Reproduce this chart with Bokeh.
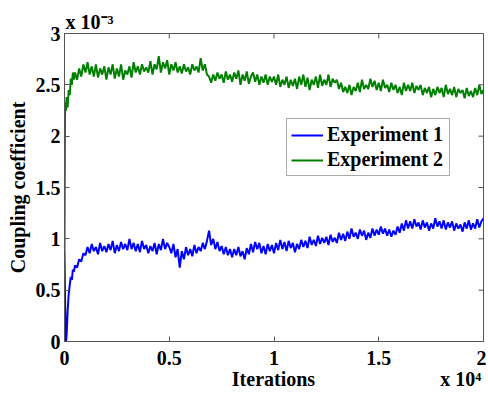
import math
from bokeh.plotting import figure
from bokeh.models import (Range1d, FixedTicker, Legend, LegendItem,
                          Title, NumeralTickFormatter)
from bokeh.embed import file_html
from bokeh.resources import INLINE

# ---- data (coupling coefficient in units of 1e-3) ----
ITERATIONS = [0, 25, 50, 75, 100, 150, 200, 250, 300, 350, 400, 450] + list(range(500, 20001, 100))

EXP1 = [
    0.88, 0.45, 0.08, 0.00, 0.06, 0.30, 0.46, 0.55, 0.63, 0.60, 0.70, 0.68,
    0.74, 0.72, 0.80, 0.78, 0.86,
    0.84, 0.92, 0.86, 0.95, 0.88,
    0.92, 0.85, 0.96, 0.88, 0.93,
    0.87, 0.95, 0.89, 0.98, 0.86,
    0.94, 0.88, 0.97, 0.90, 0.95,
    0.89, 1.00, 0.90, 0.96, 0.88,
    0.95, 0.87, 0.98, 0.90, 0.94,
    0.86, 0.93, 0.88, 0.96, 0.85,
    0.95, 0.89, 1.00, 0.90, 0.96,
    0.92, 0.86, 0.95, 0.82, 0.90,
    0.72, 0.88, 0.80, 0.92, 0.84,
    0.90, 0.83, 0.94, 0.86, 0.92,
    0.88, 0.96, 0.90, 0.98, 1.08,
    0.94, 1.00, 0.90, 0.97, 0.88,
    0.93, 0.85, 0.92, 0.84, 0.90,
    0.82, 0.90, 0.84, 0.92, 0.83,
    0.88, 0.80, 0.91, 0.85, 0.95,
    0.87, 0.97, 0.90, 0.96, 0.86,
    0.93, 0.85, 0.95, 0.88, 0.94,
    0.86, 0.96, 0.89, 0.99, 0.90,
    0.97, 0.88, 0.98, 0.91, 0.96,
    0.87, 0.95, 0.90, 0.99, 0.92,
    0.98, 0.91, 1.02, 0.94, 0.99,
    0.93, 1.03, 0.95, 1.01, 0.96,
    1.02, 0.94, 1.04, 0.97, 1.01,
    0.96, 1.06, 0.99, 1.05, 0.98,
    1.07, 1.00, 1.10, 1.02, 1.06,
    1.00, 1.09, 1.03, 1.08, 0.99,
    1.06, 1.01, 1.10, 1.03, 1.09,
    1.04, 1.12, 1.05, 1.10, 1.03,
    1.09, 1.02, 1.08, 1.04, 1.12,
    1.06, 1.15, 1.08, 1.18, 1.10,
    1.17, 1.10, 1.19, 1.12, 1.16,
    1.09, 1.18, 1.11, 1.16, 1.08,
    1.15, 1.10, 1.20, 1.12, 1.17,
    1.10, 1.18, 1.09, 1.16, 1.11,
    1.17, 1.08, 1.15, 1.10, 1.14,
    1.07, 1.16, 1.10, 1.18, 1.09,
    1.15, 1.10, 1.19, 1.11, 1.17,
    1.20,
]

EXP2 = [
    0.88, 2.20, 2.33, 2.25, 2.38, 2.28, 2.45, 2.40, 2.56, 2.50, 2.62, 2.55,
    2.62, 2.55, 2.66, 2.58, 2.70,
    2.62, 2.72, 2.60, 2.68, 2.58,
    2.70, 2.57, 2.66, 2.60, 2.68,
    2.55, 2.67, 2.60, 2.70, 2.56,
    2.66, 2.58, 2.70, 2.55, 2.64,
    2.60, 2.68, 2.57, 2.72, 2.62,
    2.68, 2.60, 2.70, 2.63, 2.67,
    2.62, 2.73, 2.60, 2.70, 2.65,
    2.78, 2.62, 2.72, 2.66, 2.74,
    2.60, 2.70, 2.64, 2.72, 2.62,
    2.68, 2.61, 2.70, 2.63, 2.67,
    2.60, 2.70, 2.64, 2.68, 2.62,
    2.76, 2.64, 2.70, 2.60, 2.58,
    2.52, 2.60, 2.54, 2.62, 2.56,
    2.60, 2.52, 2.63, 2.55, 2.60,
    2.53, 2.62, 2.56, 2.64, 2.50,
    2.60, 2.54, 2.63, 2.51, 2.58,
    2.62, 2.53, 2.60, 2.50, 2.58,
    2.52, 2.60, 2.50, 2.58, 2.53,
    2.58, 2.50, 2.60, 2.48, 2.55,
    2.50, 2.58, 2.47, 2.55, 2.49,
    2.56, 2.46, 2.58, 2.50, 2.60,
    2.48, 2.57, 2.45, 2.55, 2.50,
    2.58, 2.47, 2.60, 2.49, 2.55,
    2.50, 2.60, 2.48, 2.56, 2.52,
    2.55, 2.46, 2.52, 2.43, 2.48,
    2.42, 2.50, 2.40, 2.48, 2.44,
    2.52, 2.43, 2.55, 2.46, 2.50,
    2.46, 2.56, 2.48, 2.54, 2.45,
    2.52, 2.44, 2.55, 2.47, 2.50,
    2.43, 2.52, 2.45, 2.50, 2.42,
    2.48, 2.40, 2.52, 2.44, 2.50,
    2.44, 2.52, 2.42, 2.49, 2.45,
    2.50, 2.40, 2.47, 2.42, 2.48,
    2.38, 2.46, 2.40, 2.48, 2.42,
    2.47, 2.38, 2.50, 2.41, 2.46,
    2.40, 2.48, 2.38, 2.46, 2.42,
    2.45, 2.37, 2.47, 2.39, 2.44,
    2.38, 2.47, 2.40, 2.50, 2.41,
    2.45,
]

SERIES_NAMES = ["Experiment 1", "Experiment 2"]
SERIES_COLORS = ["#0000ff", "#008000"]
X_TICKS = [0, 5000, 10000, 15000, 20000]
X_TICK_LABELS = ["0", "0.5", "1", "1.5", "2"]
Y_TICKS = [0, 0.5, 1, 1.5, 2, 2.5, 3]
X_MAX, Y_MAX = 20000, 3
Y_EXPONENT = "x 10\u207b\u00b3"
X_EXPONENT = "x 10\u2074"
X_LABEL = "Iterations"
Y_LABEL = "Coupling coefficient"

FONT = "Liberation Serif"
AX_COLOR = "#555555"
NB = "\u00a0"

p = figure(width=486, height=392, output_backend="svg", toolbar_location=None,
           x_range=Range1d(0, X_MAX), y_range=Range1d(0, Y_MAX),
           min_border_left=64, min_border_right=3, min_border_top=33,
           min_border_bottom=50,
           x_axis_label=NB * 33 + X_LABEL + NB * 25 + X_EXPONENT,
           y_axis_label=Y_LABEL)
p.xgrid.visible = False
p.ygrid.visible = False
p.outline_line_color = AX_COLOR
p.background_fill_color = "white"
p.border_fill_color = "white"

# exponent of the y axis, above the top-left corner
p.title = Title(text=Y_EXPONENT, align="left", offset=1, standoff=2,
                text_font=FONT, text_font_style="bold", text_font_size="20px",
                text_color="black")

r1 = p.line(ITERATIONS, EXP1, line_color=SERIES_COLORS[0], line_width=2)
r2 = p.line(ITERATIONS, EXP2, line_color=SERIES_COLORS[1], line_width=2)

# inward ticks on the top and right edges (clipped to the frame)
p.scatter(X_TICKS, [Y_MAX] * len(X_TICKS), marker="dash", angle=math.pi / 2,
          size=10, line_color=AX_COLOR, line_width=1)
p.scatter([X_MAX] * len(Y_TICKS), Y_TICKS, marker="dash", size=10,
          line_color=AX_COLOR, line_width=1)

p.xaxis.ticker = FixedTicker(ticks=X_TICKS)
p.yaxis.ticker = FixedTicker(ticks=Y_TICKS)
p.xaxis.major_label_overrides = dict(zip(X_TICKS, X_TICK_LABELS))
p.yaxis.formatter = NumeralTickFormatter(format="0.[0]")

for ax in p.xaxis + p.yaxis:
    ax.axis_line_color = AX_COLOR
    ax.major_tick_line_color = AX_COLOR
    ax.major_tick_in = 5
    ax.major_tick_out = 0
    ax.minor_tick_in = 0
    ax.minor_tick_out = 0
    ax.major_label_text_font = FONT
    ax.major_label_text_font_style = "bold"
    ax.major_label_text_font_size = "20px"
    ax.major_label_text_color = "black"
    ax.axis_label_text_font = FONT
    ax.axis_label_text_font_style = "bold"
    ax.axis_label_text_font_size = "20px"
    ax.axis_label_text_color = "black"
p.xaxis.major_label_standoff = 9
p.yaxis.major_label_standoff = 4
p.xaxis.axis_label_standoff = 0
p.yaxis.axis_label_standoff = 4

legend = Legend(items=[LegendItem(label=SERIES_NAMES[0], renderers=[r1]),
                       LegendItem(label=SERIES_NAMES[1], renderers=[r2])],
                location=(222, 165))
legend.label_text_font = FONT
legend.label_text_font_style = "bold"
legend.label_text_font_size = "20px"
legend.label_text_color = "black"
legend.border_line_color = AX_COLOR
legend.border_line_width = 1
legend.background_fill_alpha = 1
legend.glyph_width = 32
legend.glyph_height = 20
legend.label_height = 20
legend.label_width = 118
legend.label_standoff = 4
legend.spacing = 2
legend.padding = 4
legend.margin = 0
p.add_layout(legend)

open("out.html", "w").write(file_html(p, INLINE))
